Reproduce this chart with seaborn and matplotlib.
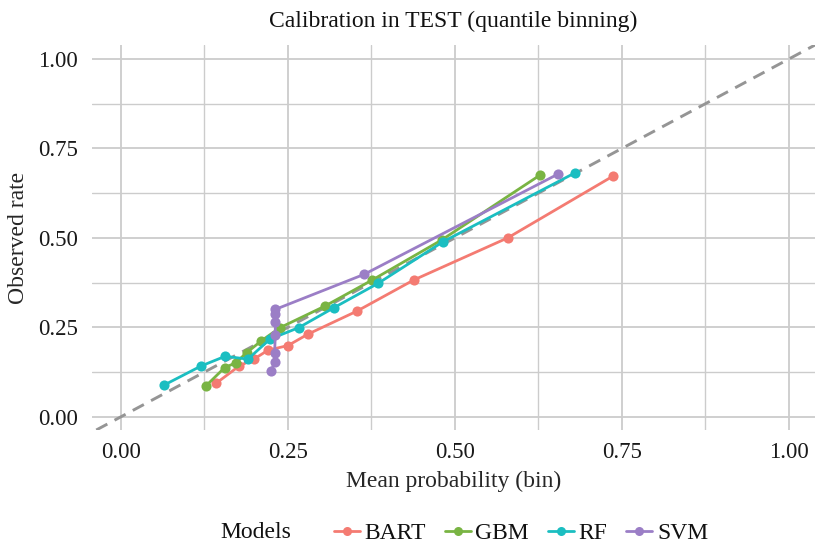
import numpy as np
import pandas as pd
import seaborn as sns
import matplotlib.pyplot as plt
from matplotlib.lines import Line2D

# values
models = ["BART", "GBM", "RF", "SVM"]
bart_x = [0.142, 0.177, 0.199, 0.220, 0.250, 0.280, 0.353, 0.438, 0.579, 0.737]
bart_y = [0.093, 0.142, 0.161, 0.186, 0.199, 0.231, 0.295, 0.382, 0.500, 0.673]
gbm_x = [0.127, 0.155, 0.172, 0.188, 0.210, 0.238, 0.305, 0.376, 0.480, 0.627]
gbm_y = [0.086, 0.137, 0.151, 0.179, 0.212, 0.249, 0.309, 0.382, 0.494, 0.675]
rf_x = [0.065, 0.120, 0.156, 0.190, 0.223, 0.266, 0.319, 0.385, 0.482, 0.680]
rf_y = [0.089, 0.142, 0.169, 0.161, 0.217, 0.249, 0.305, 0.373, 0.489, 0.682]
svm_x = [0.225, 0.230, 0.230, 0.231, 0.231, 0.231, 0.231, 0.364, 0.654]
svm_y = [0.129, 0.153, 0.179, 0.228, 0.264, 0.287, 0.300, 0.398, 0.678]
ticks = [0.0, 0.25, 0.5, 0.75, 1.0]
tick_labels = ["0.00", "0.25", "0.50", "0.75", "1.00"]

colors = ["#F47B72", "#79B443", "#1BBEC1", "#9B7EC6"]

df = pd.concat([
    pd.DataFrame({"x": bart_x, "y": bart_y, "Models": "BART"}),
    pd.DataFrame({"x": gbm_x, "y": gbm_y, "Models": "GBM"}),
    pd.DataFrame({"x": rf_x, "y": rf_y, "Models": "RF"}),
    pd.DataFrame({"x": svm_x, "y": svm_y, "Models": "SVM"}),
], ignore_index=True)

sns.set_theme(style="white")
plt.rcParams["font.family"] = ["Liberation Serif", "DejaVu Serif"]
plt.rcParams["text.color"] = "#111111"

fig = plt.figure(figsize=(8.15, 5.45), dpi=100)
ax = fig.add_axes([92 / 815, 1 - 430 / 545, 1 - 92 / 815, (430 - 45) / 545])

# grid (major + minor)
for v in np.arange(0, 1.01, 0.125):
    lw = 1.3 if v in ticks else 1.0
    ax.axvline(v, color="#CCCCCC", lw=lw, zorder=0)
    ax.axhline(v, color="#CCCCCC", lw=lw, zorder=0)

ax.axline((0, 0), slope=1, color="#959595", lw=2.1, dashes=(4.3, 2.8), zorder=1)

sns.lineplot(data=df, x="x", y="y", hue="Models", hue_order=models,
             palette=colors, marker="o", markersize=7.3, markeredgewidth=0,
             linewidth=2.0, sort=False, estimator=None, ax=ax, legend=False,
             zorder=3)

ax.set_xlim(-0.0434, 1.039)
ax.set_ylim(-0.037, 1.039)
ax.set_xticks(ticks)
ax.set_xticklabels(tick_labels)
ax.set_yticks(ticks)
ax.set_yticklabels(tick_labels)
ax.tick_params(axis="both", length=0, labelsize=16.5, labelcolor="#1a1a1a")
ax.tick_params(axis="x", pad=9)
ax.tick_params(axis="y", pad=10)
for s in ax.spines.values():
    s.set_visible(False)

ax.set_xlabel("Mean probability (bin)", fontsize=17, labelpad=5)
ax.set_ylabel("Observed rate", fontsize=17, labelpad=7)
ax.set_title("Calibration in TEST (quantile binning)", fontsize=17, pad=13)

handles = [Line2D([0], [0], color=c, lw=2.0, marker="o", markersize=6.5,
                  markeredgewidth=0) for c in colors]
fig.text(256 / 815, 1 - 533 / 545, "Models", fontsize=17, ha="center", va="center")
fig.legend(handles, models, loc="center", bbox_to_anchor=(521 / 815, 1 - 533 / 545),
           ncol=4, frameon=False, fontsize=17, handlelength=1.1, handletextpad=0.2,
           columnspacing=0.8, borderaxespad=0)

fig.savefig("out.png", dpi=100)
